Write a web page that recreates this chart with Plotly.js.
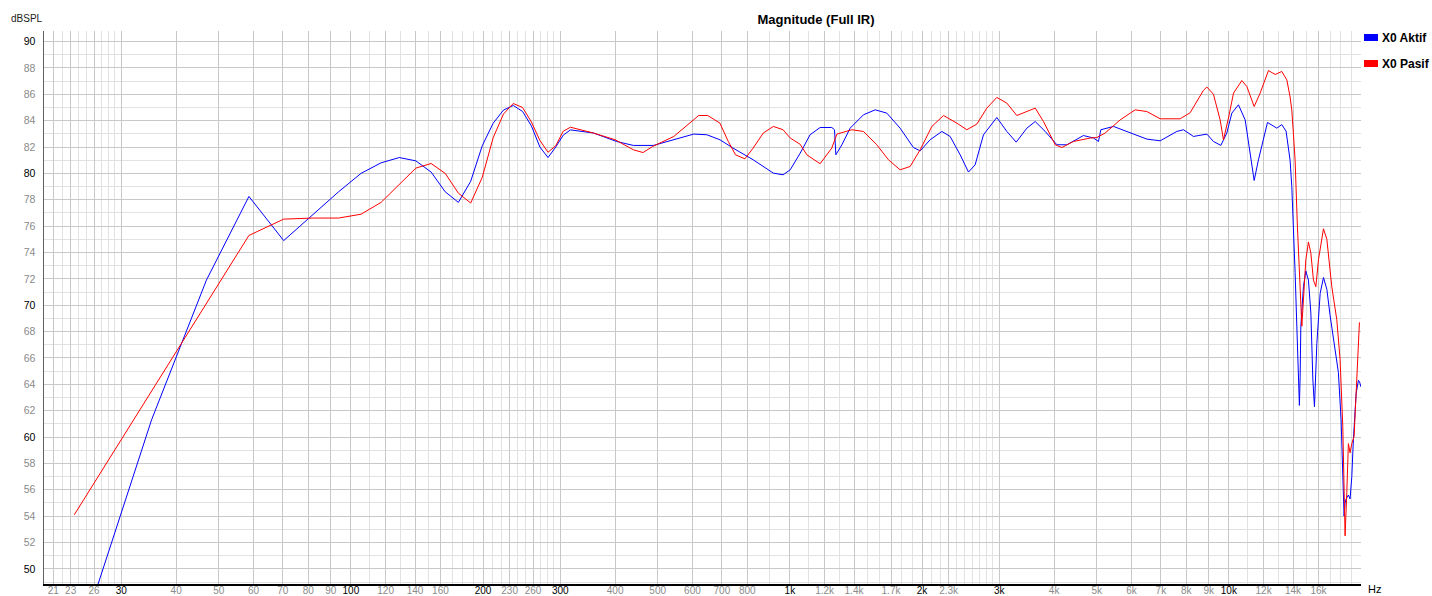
<!DOCTYPE html>
<html>
<head>
<meta charset="utf-8">
<script src="https://cdn.plot.ly/plotly-3.0.1.min.js"></script>
<style>
  html, body { margin: 0; padding: 0; background: #fff; }
  #chart { width: 1432px; height: 596px; }
</style>
</head>
<body>
<div id="chart"></div>
<script>
// ---------------- data ----------------
const seriesNames = ['X0 Aktif', 'X0 Pasif'];
const seriesColors = ['#0000FF', '#FF0000'];

const aktifFreq = [23.44, 35.16, 46.88, 58.59, 70.31, 82.03, 93.75, 105.47, 117.19, 128.91, 140.63, 152.34, 164.06, 175.78, 187.5, 199.22, 210.94, 222.66, 234.38, 246.09, 257.81, 269.53, 281.25, 292.97, 304.69, 316.41,
  335, 357, 403, 440, 489, 544, 604, 647, 693, 742, 825, 917, 965, 1002, 1056, 1112, 1172, 1246, 1264, 1273, 1314, 1372, 1471, 1565, 1663, 1783, 1912, 1981,
  2087, 2220, 2318, 2443, 2552, 2643, 2761, 2961, 3121, 3278, 3467, 3622, 3816, 4058, 4276, 4665, 4916, 5047, 5110, 5461, 5961, 6505, 6976, 7612, 7882, 8306,
  8911, 9224, 9589, 9893, 10158, 10517, 10894, 11183, 11420, 11680, 12246, 12861, 13201, 13502, 13788, 13912, 14031, 14155, 14281, 14401, 14478, 14532, 14587,
  14787, 14975, 15181, 15375, 15535, 15668, 15866, 16144, 16426, 16720, 17010, 17457, 17764, 18016, 18178, 18302, 18399, 18497, 18720, 18888, 19058, 19217,
  19498, 19733, 19838, 20000];
const aktifDb = [43.3, 61.3, 71.9, 78.25, 74.9, 76.9, 78.6, 80.0, 80.8, 81.2, 80.95, 80.1, 78.6, 77.8, 79.4, 82.1, 83.8, 84.8, 85.15, 84.7, 83.6, 82.0, 81.2, 82.0, 82.9, 83.3,
  83.2, 83.06, 82.42, 82.12, 82.12, 82.55, 82.98, 82.93, 82.55, 81.92, 81.03, 80.02, 79.89, 80.27, 81.54, 82.93, 83.48, 83.48, 83.31, 81.41, 82.17, 83.43, 84.44, 84.82, 84.57, 83.43, 81.96, 81.71,
  82.55, 83.18, 82.8, 81.41, 80.1, 80.65, 82.93, 84.24, 83.18, 82.37, 83.43, 83.93, 83.18, 82.17, 82.17, 82.87, 82.68, 82.42, 83.31, 83.56, 83.06, 82.6, 82.47, 83.18, 83.31, 82.8,
  82.98, 82.42, 82.12, 83.06, 84.57, 85.2, 84.06, 81.28, 79.46, 81.03, 83.86, 83.43, 83.7, 83.2, 81.0, 79.0, 76.3, 72.5, 68.5, 65.0, 62.4, 64.5, 68.4,
  71.4, 72.6, 71.9, 69.4, 64.4, 62.3, 67.1, 70.9, 72.1, 71.2, 69.2, 66.6, 64.9, 61.3, 57.0, 54.0, 55.0, 55.3, 55.6, 55.3, 57.0, 59.8,
  63.3, 64.3, 64.2, 63.8];

const pasifFreq = [23.44, 35.16, 46.88, 58.59, 70.31, 82.03, 93.75, 105.47, 117.19, 128.91, 140.63, 152.34, 164.06, 175.78, 187.5, 199.22, 210.94, 222.66, 234.38, 246.09, 257.81, 269.53, 281.25, 292.97, 304.69, 316.41,
  357, 400, 440, 463, 487, 544, 590, 620, 650, 693, 724, 752, 790, 825, 870, 917, 965, 1002, 1056, 1093, 1172, 1246, 1280, 1384, 1471, 1578, 1677, 1783, 1879, 1981,
  2106, 2239, 2401, 2530, 2667, 2810, 2961, 3121, 3289, 3467, 3622, 3782, 4022, 4166, 4426, 4832, 5004, 5227, 5656, 6118, 6505, 6976, 7747, 8163, 8454, 8753, 8911,
  9224, 9553, 9721, 9979, 10248, 10705, 10990, 11420, 11785, 12308, 12749, 13201, 13552, 13788, 13912, 14031, 14155, 14327, 14532, 14664, 14787, 14975, 15181,
  15375, 15585, 15783, 16000, 16426, 16720, 17160, 17615, 17921, 18178, 18302, 18399, 18565, 18720, 18888, 19058, 19288, 19498, 19733, 19838];
const pasifDb = [54.1, 63.5, 70.2, 75.29, 76.53, 76.61, 76.61, 76.9, 77.8, 79.2, 80.4, 80.75, 80.0, 78.5, 77.75, 79.7, 82.7, 84.5, 85.3, 85.0, 83.9, 82.5, 81.6, 82.1, 83.2, 83.5,
  83.06, 82.55, 81.79, 81.58, 82.04, 82.8, 83.81, 84.39, 84.39, 83.81, 82.42, 81.41, 81.1, 81.92, 83.06, 83.56, 83.31, 82.68, 82.2, 81.41, 80.73, 81.92, 82.98, 83.31, 83.18, 82.17, 81.03, 80.27, 80.52, 81.79,
  83.56, 84.39, 83.81, 83.31, 83.74, 84.95, 85.76, 85.33, 84.39, 84.69, 84.95, 83.93, 82.17, 81.96, 82.42, 82.68, 82.72, 83.06, 84.06, 84.82, 84.69, 84.14, 84.14, 84.6, 85.45, 86.3, 86.55,
  86.0, 84.06, 82.55, 84.19, 86.09, 87.04, 86.59, 85.07, 86.09, 87.8, 87.5, 87.73, 87.1, 85.8, 84.8, 83.0, 81.0, 76.0, 70.9, 68.4, 70.4, 73.45, 74.8,
  73.95, 71.9, 71.4, 73.45, 75.8, 75.0, 71.4, 68.9, 65.9, 60.8, 56.3, 52.5, 55.8, 59.5, 58.8, 59.5, 60.05, 63.8, 67.5, 68.7];

// tick labels
const xTickVals = [21, 23, 26, 30, 40, 50, 60, 70, 80, 90, 100, 120, 140, 160, 200, 230, 260, 300, 400, 500, 600, 700, 800,
  1000, 1200, 1400, 1700, 2000, 2300, 3000, 4000, 5000, 6000, 7000, 8000, 9000, 10000, 12000, 14000, 16000];
const xTickText = ['21', '23', '26', '30', '40', '50', '60', '70', '80', '90', '100', '120', '140', '160', '200', '230', '260', '300', '400', '500', '600', '700', '800',
  '1k', '1.2k', '1.4k', '1.7k', '2k', '2.3k', '3k', '4k', '5k', '6k', '7k', '8k', '9k', '10k', '12k', '14k', '16k'];
const xMainVals = [30, 100, 200, 300, 1000, 2000, 3000, 10000];
const yTickVals = [50, 52, 54, 56, 58, 60, 62, 64, 66, 68, 70, 72, 74, 76, 78, 80, 82, 84, 86, 88, 90];
const yMainVals = [50, 60, 70, 80, 90];

// ---------------- layout helpers ----------------
const W = 1432, H = 596;
const L = 44, R = 71, T = 31, B = 12;
const PW = W - L - R, PH = H - T - B;
const px = v => (v - L) / PW;           // pixel x -> paper x
const py = v => (H - B - v) / PH;       // pixel y -> paper y

// minor grid positions (frequency grid decades)
const xMinor = [];
[[20, 30, 1], [30, 100, 10], [100, 300, 10], [300, 1000, 100], [1000, 3000, 100], [3000, 10000, 1000], [10000, 20000, 1000]]
  .forEach(([a, b, s]) => { for (let f = a + s; f < b; f += s) xMinor.push(f); });
const yMinor = [];
for (let v = 49; v <= 90; v++) yMinor.push(v);

const GREY = '#8a8a8a';
const fontFam = '"Liberation Sans", Arial, sans-serif';
const blk = t => '<span style="color:#000">' + t + '</span>';

const xText = xTickVals.map((v, i) => xMainVals.includes(v) ? blk(xTickText[i]) : xTickText[i]);
const yText = yTickVals.map(v => yMainVals.includes(v) ? blk(String(v)) : String(v));

const traces = [
  { x: aktifFreq, y: aktifDb, name: seriesNames[0], type: 'scatter', mode: 'lines',
    line: { color: seriesColors[0], width: 1 }, showlegend: false, hoverinfo: 'skip' },
  { x: pasifFreq, y: pasifDb, name: seriesNames[1], type: 'scatter', mode: 'lines',
    line: { color: seriesColors[1], width: 1 }, showlegend: false, hoverinfo: 'skip' }
];

const xRange = [Math.log10(20), Math.log10(20000)];
const yRange = [48.85, 90.8];

const shapes = [], annotations = [];
// custom legend: colour swatch + bold label
seriesNames.forEach((n, i) => {
  const cy = 37.5 + i * 26;
  shapes.push({ type: 'rect', xref: 'paper', yref: 'paper', x0: px(1364), x1: px(1378), y0: py(cy - 3.5), y1: py(cy + 3.5),
    fillcolor: seriesColors[i], line: { width: 0 } });
  annotations.push({ xref: 'paper', yref: 'paper', x: px(1380), y: py(cy), xanchor: 'left', yanchor: 'middle',
    text: '<b>' + n + '</b>', showarrow: false, font: { family: fontFam, size: 12, color: '#000' } });
});
annotations.push({ xref: 'paper', yref: 'paper', x: px(9), y: py(19), xanchor: 'left', yanchor: 'middle',
  text: 'dBSPL', showarrow: false, font: { family: fontFam, size: 10, color: '#222' } });
annotations.push({ xref: 'paper', yref: 'paper', x: px(1366), y: py(589), xanchor: 'left', yanchor: 'middle',
  text: 'Hz', showarrow: false, font: { family: fontFam, size: 11, color: '#000' } });

const layout = {
  width: W, height: H,
  margin: { l: L, r: R, t: T, b: B, pad: 0 },
  paper_bgcolor: '#fff', plot_bgcolor: '#fff',
  showlegend: false,
  title: { text: '<b>Magnitude (Full IR)</b>', x: 816 / W, xanchor: 'center', y: 1 - 19 / H, yanchor: 'middle',
    font: { family: fontFam, size: 13, color: '#000' } },
  xaxis: {
    type: 'log', range: xRange, autorange: false, fixedrange: true,
    tickmode: 'array', tickvals: xTickVals, ticktext: xText,
    ticks: '', ticklabelstandoff: -4,
    tickfont: { family: fontFam, size: 10, color: GREY },
    showgrid: true, gridcolor: '#c8c8c8', gridwidth: 1,
    minor: { tickmode: 'array', tickvals: xMinor, showgrid: true, gridcolor: '#e2e2e2', gridwidth: 1, ticks: '' },
    showline: true, linecolor: '#000', linewidth: 1.5, zeroline: false
  },
  yaxis: {
    range: yRange, autorange: false, fixedrange: true,
    tickmode: 'array', tickvals: yTickVals, ticktext: yText,
    ticks: 'outside', ticklen: 5, tickcolor: 'rgba(0,0,0,0)',
    tickfont: { family: fontFam, size: 10.5, color: GREY },
    showgrid: true, gridcolor: '#c8c8c8', gridwidth: 1,
    minor: { tickmode: 'array', tickvals: yMinor, showgrid: true, gridcolor: '#e2e2e2', gridwidth: 1, ticks: '' },
    showline: true, linecolor: '#606060', linewidth: 1.5, zeroline: false
  },
  xaxis2: {
    type: 'log', range: xRange, autorange: false, fixedrange: true, overlaying: 'x', anchor: 'y', side: 'top',
    tickmode: 'array', tickvals: xMainVals, showticklabels: false, ticks: '',
    showgrid: true, gridcolor: '#a8a8a8', gridwidth: 1,
    showline: true, linecolor: '#909090', linewidth: 1, zeroline: false
  },
  yaxis2: {
    range: yRange, autorange: false, fixedrange: true, overlaying: 'y', anchor: 'x', side: 'right',
    tickmode: 'array', tickvals: yMainVals, showticklabels: false, ticks: '',
    showgrid: true, gridcolor: '#a8a8a8', gridwidth: 1,
    showline: true, linecolor: '#000', linewidth: 1, zeroline: false
  },
  shapes: shapes,
  annotations: annotations
};

Plotly.newPlot('chart', traces, layout, { displayModeBar: false, staticPlot: true });
</script>
</body>
</html>
